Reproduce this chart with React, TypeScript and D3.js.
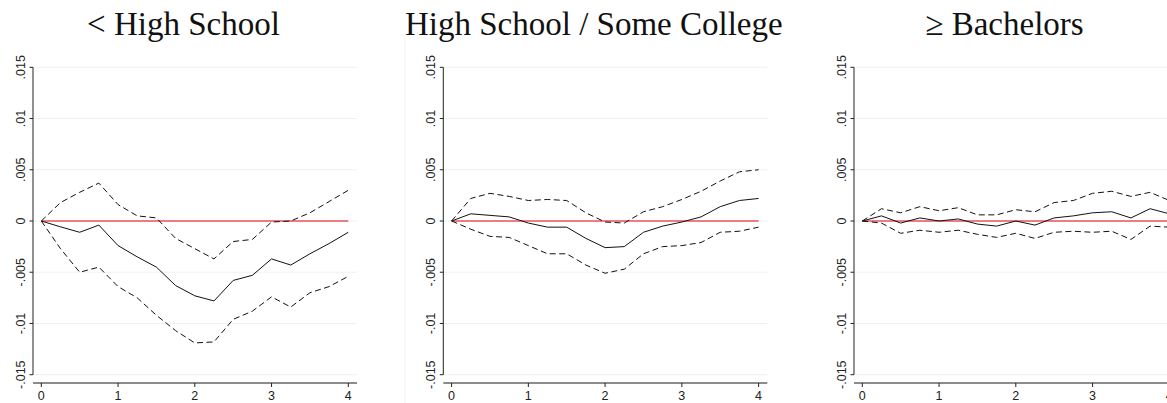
import React from "react";
import * as d3 from "d3";

const horizons = [0, 0.25, 0.5, 0.75, 1, 1.25, 1.5, 1.75, 2, 2.25, 2.5, 2.75, 3, 3.25, 3.5, 3.75, 4];
const titles = ["< High School", "High School / Some College", "\u2265 Bachelors"];
const yTicks = [-0.015, -0.01, -0.005, 0, 0.005, 0.01, 0.015];
const yTickLabels = ["-.015", "-.01", "-.005", "0", ".005", ".01", ".015"];
const xTicks = [0, 1, 2, 3, 4];

const lhsEst = [0, -0.00057, -0.0011, -0.0004, -0.0024, -0.0035, -0.0045, -0.0063, -0.0073, -0.0078, -0.0058, -0.0053, -0.0037, -0.0043, -0.0032, -0.0022, -0.0011];
const lhsUpper = [0, 0.0018, 0.0028, 0.0037, 0.0016, 0.0005, 0.0003, -0.0017, -0.0027, -0.0037, -0.002, -0.0018, -0.0001, 0.0, 0.0008, 0.0019, 0.003];
const lhsLower = [0, -0.0027, -0.005, -0.0045, -0.0064, -0.0075, -0.0092, -0.0107, -0.0119, -0.0118, -0.0096, -0.0088, -0.0074, -0.0084, -0.007, -0.0064, -0.0054];

const hsEst = [0, 0.0007, 0.00055, 0.0004, -0.0002, -0.0006, -0.0006, -0.0017, -0.0026, -0.0025, -0.0011, -0.0005, -0.0001, 0.0004, 0.0014, 0.002, 0.0022];
const hsUpper = [0, 0.0022, 0.0027, 0.0024, 0.002, 0.0021, 0.002, 0.0008, -0.0001, -0.0002, 0.0009, 0.0014, 0.0021, 0.0029, 0.0039, 0.0048, 0.005];
const hsLower = [0, -0.0008, -0.0015, -0.0016, -0.0024, -0.0032, -0.0032, -0.0043, -0.0051, -0.0047, -0.0032, -0.0025, -0.0024, -0.0021, -0.0011, -0.001, -0.0006];

const baEst = [0, 0.0005, -0.0002, 0.0003, 0, 0.0002, -0.0003, -0.0005, 0, -0.0004, 0.0003, 0.0005, 0.0008, 0.0009, 0.0003, 0.0012, 0.0007];
const baUpper = [0, 0.0012, 0.0008, 0.0014, 0.001, 0.0013, 0.0006, 0.0006, 0.0011, 0.0009, 0.0018, 0.002, 0.0027, 0.0029, 0.0024, 0.0028, 0.002];
const baLower = [0, -0.0002, -0.0012, -0.0009, -0.0011, -0.0009, -0.0013, -0.0016, -0.0012, -0.0017, -0.0011, -0.001, -0.0011, -0.001, -0.0018, -0.0005, -0.0006];

const panels = [
  { est: lhsEst, upper: lhsUpper, lower: lhsLower },
  { est: hsEst, upper: hsUpper, lower: hsLower },
  { est: baEst, upper: baUpper, lower: baLower },
];

const W = 1167;
const H = 403;
const axisXs = [33, 443.3, 854];
const plotTop = 67.3;
const plotBottom = 374.7;
const xAxisY = 383;
const plotWidth = 324;

function Panel({ k }: { k: number }) {
  const ax = axisXs[k];
  const x = d3.scaleLinear().domain([0, 4]).range([ax + 8.3, ax + 315.3]);
  const y = d3.scaleLinear().domain([-0.015, 0.015]).range([plotBottom, plotTop]);
  const line = d3
    .line<number>()
    .x((_, i) => x(horizons[i]))
    .y((d) => y(d));
  const p = panels[k];
  const tickFont = "Liberation Sans, Arial, sans-serif";
  return (
    <g>
      <text
        x={ax + 150.5}
        y={35}
        textAnchor="middle"
        fontFamily="Liberation Serif, Times New Roman, serif"
        fontSize={33}
        fill="#111"
      >
        {titles[k]}
      </text>
      {yTicks.map((t) => (
        <line key={"g" + t} x1={ax} x2={ax + plotWidth} y1={y(t)} y2={y(t)} stroke="#eaf2f3" strokeWidth={1} />
      ))}
      <line x1={x(0)} x2={x(4)} y1={y(0)} y2={y(0)} stroke="#e8000b" strokeWidth={1.2} />
      <path d={line(p.upper) || ""} fill="none" stroke="#111" strokeWidth={1} strokeDasharray="6,3.5" />
      <path d={line(p.lower) || ""} fill="none" stroke="#111" strokeWidth={1} strokeDasharray="6,3.5" />
      <path d={line(p.est) || ""} fill="none" stroke="#111" strokeWidth={1} />
      <line x1={ax} x2={ax} y1={plotTop} y2={plotBottom} stroke="#222" strokeWidth={1} />
      {yTicks.map((t, i) => (
        <g key={"yt" + t}>
          <line x1={ax - 3.5} x2={ax} y1={y(t)} y2={y(t)} stroke="#222" strokeWidth={1} />
          <text
            transform={`translate(${ax - 8},${y(t)}) rotate(-90)`}
            textAnchor="middle"
            fontFamily={tickFont}
            fontSize={12.5}
            fill="#222"
          >
            {yTickLabels[i]}
          </text>
        </g>
      ))}
      <line x1={ax} x2={ax + plotWidth} y1={xAxisY} y2={xAxisY} stroke="#666" strokeWidth={1.3} />
      {xTicks.map((t) => (
        <g key={"xt" + t}>
          <line x1={x(t)} x2={x(t)} y1={xAxisY} y2={xAxisY + 4} stroke="#222" strokeWidth={1} />
          <text x={x(t)} y={399.5} textAnchor="middle" fontFamily={tickFont} fontSize={12.5} fill="#222">
            {t}
          </text>
        </g>
      ))}
    </g>
  );
}

export default function App() {
  return (
    <svg
      width={W}
      height={H}
      viewBox={`0 0 ${W} ${H}`}
      style={{ position: "absolute", left: 0, top: 0, background: "#fff" }}
    >
      <rect x={0} y={0} width={W} height={H} fill="#fff" />
      <line x1={405} x2={405} y1={37} y2={H} stroke="#f2f2f2" strokeWidth={1} />
      {[0, 1, 2].map((k) => (
        <Panel key={k} k={k} />
      ))}
    </svg>
  );
}
